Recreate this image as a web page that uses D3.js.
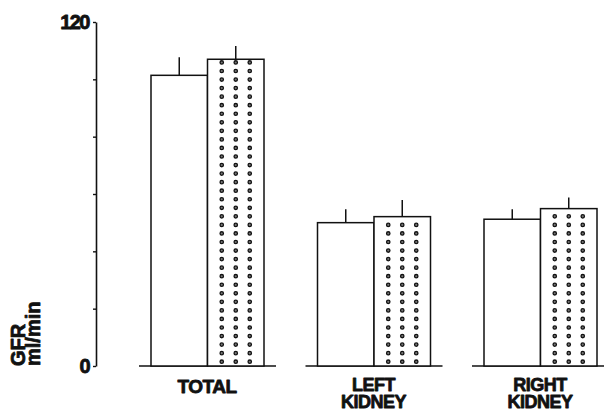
<!DOCTYPE html>
<html>
<head>
<meta charset="utf-8">
<script src="https://cdn.jsdelivr.net/npm/d3@7"></script>
<style>
  html, body { margin: 0; padding: 0; background: #fff; }
  svg { display: block; }
  text { font-family: "Liberation Sans", Arial, sans-serif; font-weight: 900; fill: #111;
         stroke: #111; stroke-width: 0.8px; stroke-linejoin: round; }
</style>
</head>
<body>
<svg id="chart" width="604" height="413"></svg>
<script>
// GFR (ml/min), total and per kidney, two conditions
const groups = ["TOTAL", "LEFT KIDNEY", "RIGHT KIDNEY"];
const groupLines = [["TOTAL"], ["LEFT", "KIDNEY"], ["RIGHT", "KIDNEY"]];
const series = ["control", "treated"];
const controlValues = [101.4, 50.0, 51.2];
const controlErrors = [6.3, 4.7, 3.5];
const treatedValues = [107.0, 52.1, 54.9];
const treatedErrors = [4.6, 5.8, 3.9];
const yTicks = [0, 20, 40, 60, 80, 100, 120];
const yTickLabels = { 0: "0", 120: "120" };

const svg = d3.select("#chart");
const ink = "#111";

const y = d3.scaleLinear().domain([0, 120]).range([366, 22]);
const x = d3.scalePoint().domain(groups).range([207, 540]);
const xs = d3.scaleBand().domain(series).range([-56, 57]).padding(0);

const rows = groups.map((g, i) => [
  { g, s: "control", v: controlValues[i], e: controlErrors[i] },
  { g, s: "treated", v: treatedValues[i], e: treatedErrors[i] }
]).flat();

// y axis
const axis = d3.axisLeft(y)
  .tickValues(yTicks)
  .tickSize(3)
  .tickSizeOuter(0)
  .tickPadding(4)
  .tickFormat(d => yTickLabels[d] || "");
const ax = svg.append("g").attr("transform", "translate(96,0)").call(axis);
ax.select(".domain").attr("stroke", ink).attr("stroke-width", 1.6);
ax.selectAll(".tick line").attr("stroke", ink).attr("stroke-width", 1.4);
ax.selectAll(".tick text")
  .attr("font-size", 20).attr("font-weight", 900)
  .attr("font-family", "'Liberation Sans', Arial, sans-serif")
  .attr("letter-spacing", -1.5).attr("fill", ink);

// y title
const title = svg.append("text")
  .attr("transform", "translate(25,366) rotate(-90)")
  .attr("font-size", 20);
title.append("tspan").attr("x", 0).attr("y", 0).text("GFR");
title.append("tspan").attr("x", 0).attr("y", 15).text("ml/min");

// baseline under each group
svg.append("g").selectAll("line").data(groups).join("line")
  .attr("x1", d => x(d) - 68).attr("x2", d => x(d) + 69)
  .attr("y1", y(0)).attr("y2", y(0))
  .attr("stroke", ink).attr("stroke-width", 1.5);

// bars
const bars = svg.append("g");
bars.selectAll("rect").data(rows).join("rect")
  .attr("x", d => x(d.g) + xs(d.s))
  .attr("y", d => y(d.v))
  .attr("width", xs.bandwidth())
  .attr("height", d => y(0) - y(d.v))
  .attr("fill", "#fff")
  .attr("stroke", ink)
  .attr("stroke-width", 1.5);

// dot fill for the treated bars
const dots = [];
rows.filter(d => d.s === "treated").forEach(d => {
  const cx = x(d.g) + xs(d.s) + xs.bandwidth() / 2;
  for (let yy = y(0) - 4.3; yy > y(d.v) + 2; yy -= 8.55) {
    [-14, 0, 14].forEach(o => dots.push({ x: cx + o, y: yy }));
  }
});
svg.append("g").selectAll("circle").data(dots).join("circle")
  .attr("cx", d => d.x).attr("cy", d => d.y)
  .attr("r", 1.7)
  .attr("fill", "#777")
  .attr("stroke", ink)
  .attr("stroke-width", 1.3);

// error bars (upper half only)
svg.append("g").selectAll("line").data(rows).join("line")
  .attr("x1", d => x(d.g) + xs(d.s) + xs.bandwidth() / 2)
  .attr("x2", d => x(d.g) + xs(d.s) + xs.bandwidth() / 2)
  .attr("y1", d => y(d.v))
  .attr("y2", d => y(d.v + d.e))
  .attr("stroke", ink)
  .attr("stroke-width", 1.5);

// category labels; two-line labels are set a touch tighter to fit the bottom edge
svg.append("g").selectAll("text").data(groups).join("text")
  .attr("text-anchor", "middle")
  .attr("letter-spacing", -0.5)
  .each(function (d, i) {
    const t = d3.select(this);
    const lines = groupLines[i];
    const two = lines.length > 1;
    t.attr("font-size", two ? 18 : 19);
    lines.forEach((line, k) => {
      t.append("tspan").attr("x", x(d)).attr("y", (two ? 391 : 393) + k * 17).text(line);
    });
  });
</script>
</body>
</html>
